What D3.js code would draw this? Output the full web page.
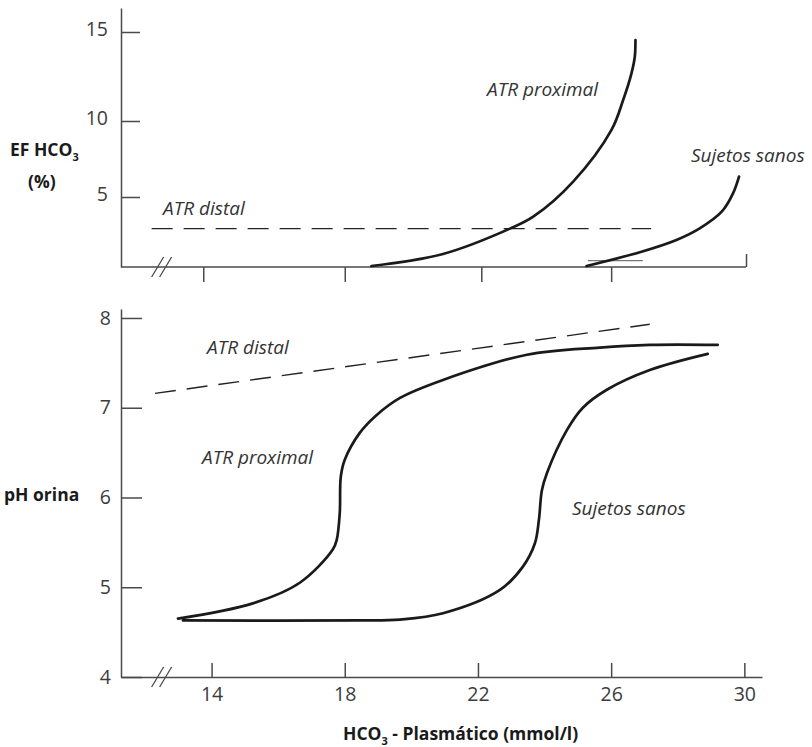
<!DOCTYPE html>
<html>
<head>
<meta charset="utf-8">
<script src="https://cdn.jsdelivr.net/npm/d3@7"></script>
<style>
  body { margin: 0; background: #fff; }
  svg { display: block; }
  .tick text { font-family: "Open Sans", Lato, sans-serif; font-size: 19.5px; }
  .title { font-family: "Open Sans", "Liberation Sans", sans-serif; font-weight: bold; font-size: 17.5px; fill: #1a1a1a; }
  .note { font-family: "Open Sans", "Liberation Sans", sans-serif; font-style: italic; font-size: 19px; fill: #333; }
</style>
</head>
<body>
<script>
// tick values
var xTickValues = [14, 18, 22, 26, 30];
var topTickValues = [13.75, 18, 22.1, 26];
var topEndTick = 30.05;
var efTicks = [5, 10, 15];
var phTicks = [4, 5, 6, 7, 8];

// EF HCO3 (%) vs plasma HCO3 - upper panel
var efProximal = [[18.8, 0.07], [20.95, 0.93], [22.96, 2.74], [23.66, 3.59], [24.86, 6.01],
                  [26.01, 9.41], [26.36, 11.18], [26.61, 12.68], [26.71, 13.61], [26.73, 14.55]];
var efSanos = [[25.26, 0.07], [26.91, 1.09], [27.96, 1.93], [28.66, 2.76], [29.32, 3.95],
               [29.66, 5.24], [29.84, 6.34]];
var efSanosFoot = [[25.3, 0.45], [26.95, 0.45]];
var efDistal = [[12.2, 2.74], [27.2, 2.74]];

// pH orina vs plasma HCO3 - lower panel
var phProximal = [[12.99, 4.65], [15.24, 4.82], [16.65, 5.05], [17.64, 5.42], [17.76, 5.53],
                  [17.85, 5.83], [17.88, 6.23], [18.0, 6.42], [18.45, 6.72], [18.96, 6.92],
                  [19.66, 7.11], [20.95, 7.31], [23.47, 7.59], [25.66, 7.67], [27.16, 7.70], [29.2, 7.70]];
var phSanos = [[13.14, 4.63], [18.45, 4.63], [19.66, 4.64], [20.95, 4.71], [22.66, 4.97],
               [23.35, 5.23], [23.71, 5.49], [23.83, 5.75], [23.92, 6.08], [24.07, 6.27],
               [24.67, 6.75], [25.15, 7.00], [25.87, 7.20], [27.16, 7.42], [28.9, 7.60]];
var phDistal = [[12.3, 7.16], [27.16, 7.93]];

var width = 812, height = 747;

var svg = d3.select("body").append("svg")
    .attr("width", width)
    .attr("height", height);

// SCALES
var x = d3.scaleLinear().domain([11.28, 30.53]).range([121, 762]);
var yEF = d3.scaleLinear().domain([0, 5, 10, 15, 16.35]).range([267, 197, 121, 32, 8]);
var yPH = d3.scaleLinear().domain([4, 8.1]).range([677, 309]);

var axisColor = "#4a4a4a";

function styleAxis(g) {
    g.selectAll("path, line").attr("stroke", axisColor).attr("stroke-width", 1.5);
    g.selectAll("text").attr("fill", "#3c3c3c");
}

// ---------- upper panel ----------
svg.append("g")
    .attr("transform", "translate(" + x.range()[0] + ",0)")
    .call(d3.axisLeft(yEF).tickValues(efTicks).tickFormat(d3.format("d"))
        .tickSizeInner(-19).tickSizeOuter(0).tickPadding(13))
    .call(styleAxis)
    .call(function(g) { g.selectAll("text").attr("y", -3); });

// x baseline of upper panel
svg.append("line")
    .attr("x1", x(11.28)).attr("x2", x(topEndTick))
    .attr("y1", yEF(0)).attr("y2", yEF(0))
    .attr("stroke", axisColor).attr("stroke-width", 1.5);

svg.append("g")
    .attr("transform", "translate(0," + yEF(0) + ")")
    .call(d3.axisBottom(x).tickValues(topTickValues).tickSize(15).tickFormat(""))
    .call(function(g) { g.select(".domain").remove(); })
    .call(styleAxis);

svg.append("g")
    .attr("transform", "translate(0," + yEF(0) + ")")
    .call(d3.axisBottom(x).tickValues([topEndTick]).tickSize(-13).tickFormat(""))
    .call(function(g) { g.select(".domain").remove(); })
    .call(styleAxis);

// ---------- lower panel ----------
svg.append("g")
    .attr("transform", "translate(" + x.range()[0] + ",0)")
    .call(d3.axisLeft(yPH).tickValues(phTicks).tickFormat(d3.format("d"))
        .tickSizeInner(-21).tickSizeOuter(0).tickPadding(10))
    .call(styleAxis);

svg.append("g")
    .attr("transform", "translate(0," + yPH.range()[0] + ")")
    .call(d3.axisBottom(x).tickValues(xTickValues).tickFormat(d3.format("d"))
        .tickSizeInner(-14).tickSizeOuter(0).tickPadding(10))
    .call(styleAxis);

// axis break marks "//"
function breakMarks(yPix) {
    var cx = x(12.5);
    [-4, 4].forEach(function(off) {
        svg.append("line")
            .attr("x1", cx + off - 6).attr("y1", yPix + 10)
            .attr("x2", cx + off + 6).attr("y2", yPix - 10)
            .attr("stroke", axisColor).attr("stroke-width", 1.3);
    });
}
breakMarks(yEF(0));
breakMarks(yPH(4));

// ---------- curves ----------
var lineEF = d3.line()
    .x(function(d) { return x(d[0]); })
    .y(function(d) { return yEF(d[1]); })
    .curve(d3.curveCatmullRom.alpha(0.5));

var linePH = d3.line()
    .x(function(d) { return x(d[0]); })
    .y(function(d) { return yPH(d[1]); })
    .curve(d3.curveCatmullRom.alpha(0.5));

function solid(data, gen) {
    svg.append("path").datum(data)
        .attr("d", gen)
        .attr("fill", "none")
        .attr("stroke", "#1a1a1a")
        .attr("stroke-width", 2.7)
        .attr("stroke-linecap", "round");
}

function dashed(data, gen) {
    svg.append("path").datum(data)
        .attr("d", gen)
        .attr("fill", "none")
        .attr("stroke", "#222")
        .attr("stroke-width", 1.4)
        .attr("stroke-dasharray", "21,11");
}

dashed(efDistal, lineEF);
svg.append("path").datum(efSanosFoot)
    .attr("d", lineEF)
    .attr("fill", "none")
    .attr("stroke", "#777")
    .attr("stroke-width", 1.2);
solid(efProximal, lineEF);
solid(efSanos, lineEF);

dashed(phDistal, linePH);
solid(phProximal, linePH);
solid(phSanos, linePH);

// ---------- annotations ----------
function note(txt, px, py) {
    svg.append("text").attr("class", "note").attr("x", px).attr("y", py).text(txt);
}
note("ATR proximal", 487, 96);
note("Sujetos sanos", 691, 162);
note("ATR distal", 163, 215);
note("ATR distal", 207, 354);
note("ATR proximal", 202, 464);
note("Sujetos sanos", 572, 515);

// ---------- axis titles ----------
var t1 = svg.append("text").attr("class", "title").attr("x", 10).attr("y", 156);
t1.append("tspan").text("EF HCO");
t1.append("tspan").attr("dy", 5).attr("font-size", 11).text("3");

svg.append("text").attr("class", "title").attr("x", 28).attr("y", 188).text("(%)");
svg.append("text").attr("class", "title").attr("x", 4).attr("y", 501).text("pH orina");

var t2 = svg.append("text").attr("class", "title").attr("x", 343).attr("y", 740);
t2.append("tspan").text("HCO");
t2.append("tspan").attr("dy", 5).attr("font-size", 11).text("3");
t2.append("tspan").attr("dy", -5).text(" - Plasmático (mmol/l)");
</script>
</body>
</html>
